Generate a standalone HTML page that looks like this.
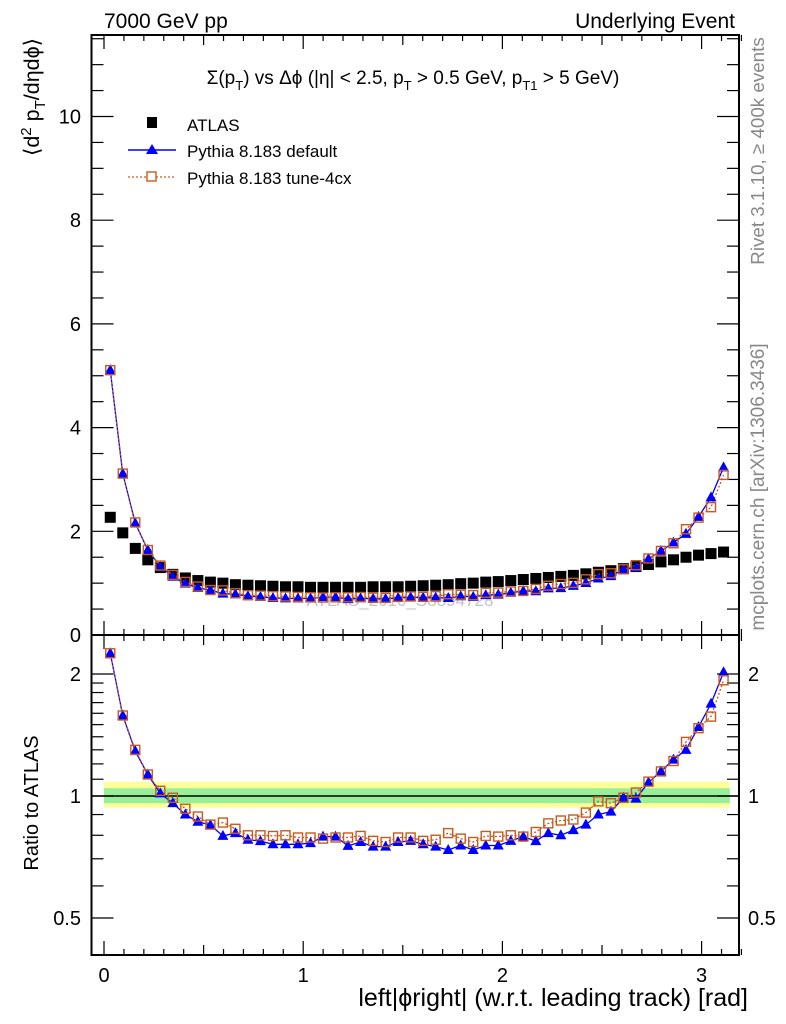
<!DOCTYPE html>
<html><head><meta charset="utf-8"><style>
body{margin:0;background:#fff}
svg{display:block;font-family:"Liberation Sans",sans-serif}
</style></head><body>
<svg id="chart" width="786" height="1024" viewBox="0 0 786 1024" xmlns="http://www.w3.org/2000/svg">
<text x="104" y="28" font-size="21">7000 GeV pp</text>
<text x="735" y="28" font-size="21" text-anchor="end">Underlying Event</text>
<text transform="translate(764,151) rotate(-90)" font-size="18.8" fill="#888" text-anchor="middle">Rivet 3.1.10, ≥ 400k events</text>
<text transform="translate(764,487) rotate(-90)" font-size="19" fill="#888" text-anchor="middle">mcplots.cern.ch [arXiv:1306.3436]</text>
<text transform="translate(39,97) rotate(-90)" font-size="21.5" text-anchor="middle">⟨d<tspan dy="-8" font-size="15">2</tspan><tspan dy="8"> p</tspan><tspan dy="6" font-size="15">T</tspan><tspan dy="-6">/dηdϕ⟩</tspan></text>
<text transform="translate(38,803) rotate(-90)" font-size="20" text-anchor="middle">Ratio to ATLAS</text>
<text x="748" y="1006" font-size="25" text-anchor="end">left|ϕright| (w.r.t. leading track) [rad]</text>
<text x="413" y="84" font-size="19" text-anchor="middle">Σ(p<tspan dy="6" font-size="13">T</tspan><tspan dy="-6">) vs Δϕ (|η| &lt; 2.5, p</tspan><tspan dy="6" font-size="13">T</tspan><tspan dy="-6"> &gt; 0.5 GeV, p</tspan><tspan dy="6" font-size="13">T1</tspan><tspan dy="-6"> &gt; 5 GeV)</tspan></text>
<text x="400" y="606" font-size="17" fill="#aaa" opacity="0.7" text-anchor="middle">ATLAS_2010_S8894728</text>
<g id="legend">
<rect x="147" y="117" width="10" height="11" fill="#000"/>
<text x="187" y="131" font-size="17">ATLAS</text>
<line x1="128" y1="150" x2="176" y2="150" stroke="#00f" stroke-width="1.5"/>
<polygon points="152,144 158,154 146,154" fill="#00f"/>
<text x="187" y="157" font-size="17">Pythia 8.183 default</text>
<line x1="128" y1="177" x2="176" y2="177" stroke="#c85a1e" stroke-width="1.3" stroke-dasharray="2,2"/>
<rect x="147" y="172" width="9" height="9" fill="#fff" stroke="#c85a1e" stroke-width="1.4"/>
<text x="187" y="184" font-size="17">Pythia 8.183 tune-4cx</text>
</g>
<g id="g"></g>
</svg>
<script>
const atlas=[2.27,1.97,1.67,1.45,1.3,1.17,1.1,1.05,1.02,1.0,0.97,0.96,0.95,0.94,0.93,0.93,0.92,0.92,0.92,0.92,0.92,0.93,0.93,0.93,0.94,0.95,0.96,0.97,0.99,1.0,1.02,1.03,1.05,1.07,1.09,1.11,1.13,1.15,1.18,1.21,1.24,1.28,1.32,1.36,1.41,1.45,1.5,1.54,1.57,1.6];
const ratioDefault=[2.25,1.58,1.29,1.13,1.015,0.96,0.90,0.864,0.848,0.797,0.81,0.78,0.774,0.76,0.76,0.76,0.765,0.794,0.794,0.753,0.77,0.75,0.75,0.77,0.775,0.76,0.75,0.736,0.755,0.736,0.755,0.755,0.775,0.794,0.774,0.81,0.80,0.824,0.85,0.90,0.915,0.99,0.985,1.08,1.15,1.23,1.3,1.48,1.69,2.02];
const ratioTune=[2.25,1.58,1.3,1.13,1.03,0.99,0.93,0.89,0.85,0.86,0.83,0.80,0.80,0.797,0.80,0.79,0.79,0.785,0.79,0.79,0.797,0.775,0.77,0.79,0.79,0.775,0.78,0.81,0.785,0.77,0.797,0.794,0.80,0.794,0.815,0.856,0.87,0.875,0.91,0.97,0.96,0.99,1.02,1.085,1.15,1.22,1.36,1.47,1.57,1.93];
const xTicks=[0,1,2,3];
const yTicksMain=[0,2,4,6,8,10];
const yTicksRatio=[0.5,1,2];
const NS="http://www.w3.org/2000/svg";
const g=document.getElementById('g');
function mk(t,a,p){const e=document.createElementNS(NS,t);for(const k in a)e.setAttribute(k,a[k]);(p||g).appendChild(e);return e;}
const L=91.5,R=739,T1=35,B1=635,T2=635,B2=955;
const X=v=>104+v*199.2;
const Y1=v=>B1-v*51.85;
const Y2=v=>796-Math.log2(v)*122;
const xc=atlas.map((_,i)=>(i+0.5)*Math.PI/atlas.length);
let b=mk('rect',{x:104,y:Y2(1.085),width:X(Math.PI)-104,height:Y2(0.935)-Y2(1.085),fill:'#ffff99'});

b=mk('rect',{x:104,y:Y2(1.045),width:X(Math.PI)-104,height:Y2(0.96)-Y2(1.045),fill:'#99ee99'});

let l=mk('line',{x1:L,x2:R,y1:Y2(1),y2:Y2(1),stroke:'#000','stroke-width':1.5});

[[T1,B1,'main-frame'],[T2,B2,'ratio-frame']].forEach(f=>{const r=mk('rect',{x:L,y:f[0],width:R-L,height:f[1]-f[0],fill:'none',stroke:'#000','stroke-width':2});});
for(let i=0;i<=32;i++){const v=i/10,x=X(v),len=i%10==0?14:(i%5==0?10:6);
[[B1,-1],[T1,1],[B2,-1],[T2,1]].forEach(([y,d])=>mk('line',{x1:x,x2:x,y1:y,y2:y+d*len,stroke:'#000','stroke-width':1.2}));}
xTicks.forEach(v=>{const t=mk('text',{x:X(v),y:982,'font-size':20,'text-anchor':'middle'});t.textContent=v;});
for(let i=0;i<=23;i++){const v=i/2,y=Y1(v);if(y<T1)break;const len=i%4==0?22:12;
mk('line',{x1:L,x2:L+len,y1:y,y2:y,stroke:'#000','stroke-width':1.2});mk('line',{x1:R,x2:R-len,y1:y,y2:y,stroke:'#000','stroke-width':1.2});}
yTicksMain.forEach(v=>{const t=mk('text',{x:81,y:Y1(v)+7,'font-size':20,'text-anchor':'end'});t.textContent=v;});
[0.5,0.6,0.7,0.8,0.9,1,1.1,1.2,1.3,1.4,1.5,1.6,1.7,1.8,1.9,2].forEach(v=>{const y=Y2(v),len=yTicksRatio.includes(v)?22:12;mk('line',{x1:L,x2:L+len,y1:y,y2:y,stroke:'#000','stroke-width':1.2});mk('line',{x1:R,x2:R-len,y1:y,y2:y,stroke:'#000','stroke-width':1.2});});
yTicksRatio.forEach(v=>{[[81,'end'],[748,'start']].forEach(([x,a])=>{const t=mk('text',{x:x,y:Y2(v)+7,'font-size':20,'text-anchor':a});t.textContent=v;});});
function line(vals,Y,col,dash,name){const p=mk('polyline',{points:vals.map((v,i)=>X(xc[i])+','+Y(v)).join(' '),fill:'none',stroke:col,'stroke-width':1.3});if(dash)p.setAttribute('stroke-dasharray','2,2');}
function tri(vals,Y,name){vals.forEach((v,i)=>{const x=X(xc[i]),y=Y(v);const p=mk('polygon',{points:`${x},${y-6} ${x+5.5},${y+4} ${x-5.5},${y+4}`,fill:'#00f'});});}
function sq(vals,Y,name){vals.forEach((v,i)=>{const x=X(xc[i]),y=Y(v);const r=mk('rect',{x:x-4.5,y:y-4.5,width:9,height:9,fill:'none',stroke:'#c85a1e','stroke-width':1.4});});}
atlas.forEach((v,i)=>{const x=X(xc[i]),y=Y1(v);const r=mk('rect',{x:x-5.5,y:y-5.5,width:11,height:11,fill:'#000'});});
const mainDef=atlas.map((v,i)=>v*ratioDefault[i]),mainTune=atlas.map((v,i)=>v*ratioTune[i]);
line(mainDef,Y1,'#00f',false,'default-line');line(mainTune,Y1,'#c85a1e',true,'tune-line');
tri(mainDef,Y1,'default-point');sq(mainTune,Y1,'tune-point');
line(ratioDefault,Y2,'#00f',false,'ratio-default-line');line(ratioTune,Y2,'#c85a1e',true,'ratio-tune-line');
tri(ratioDefault,Y2,'ratio-default-point');sq(ratioTune,Y2,'ratio-tune-point');
</script>
</body></html>
